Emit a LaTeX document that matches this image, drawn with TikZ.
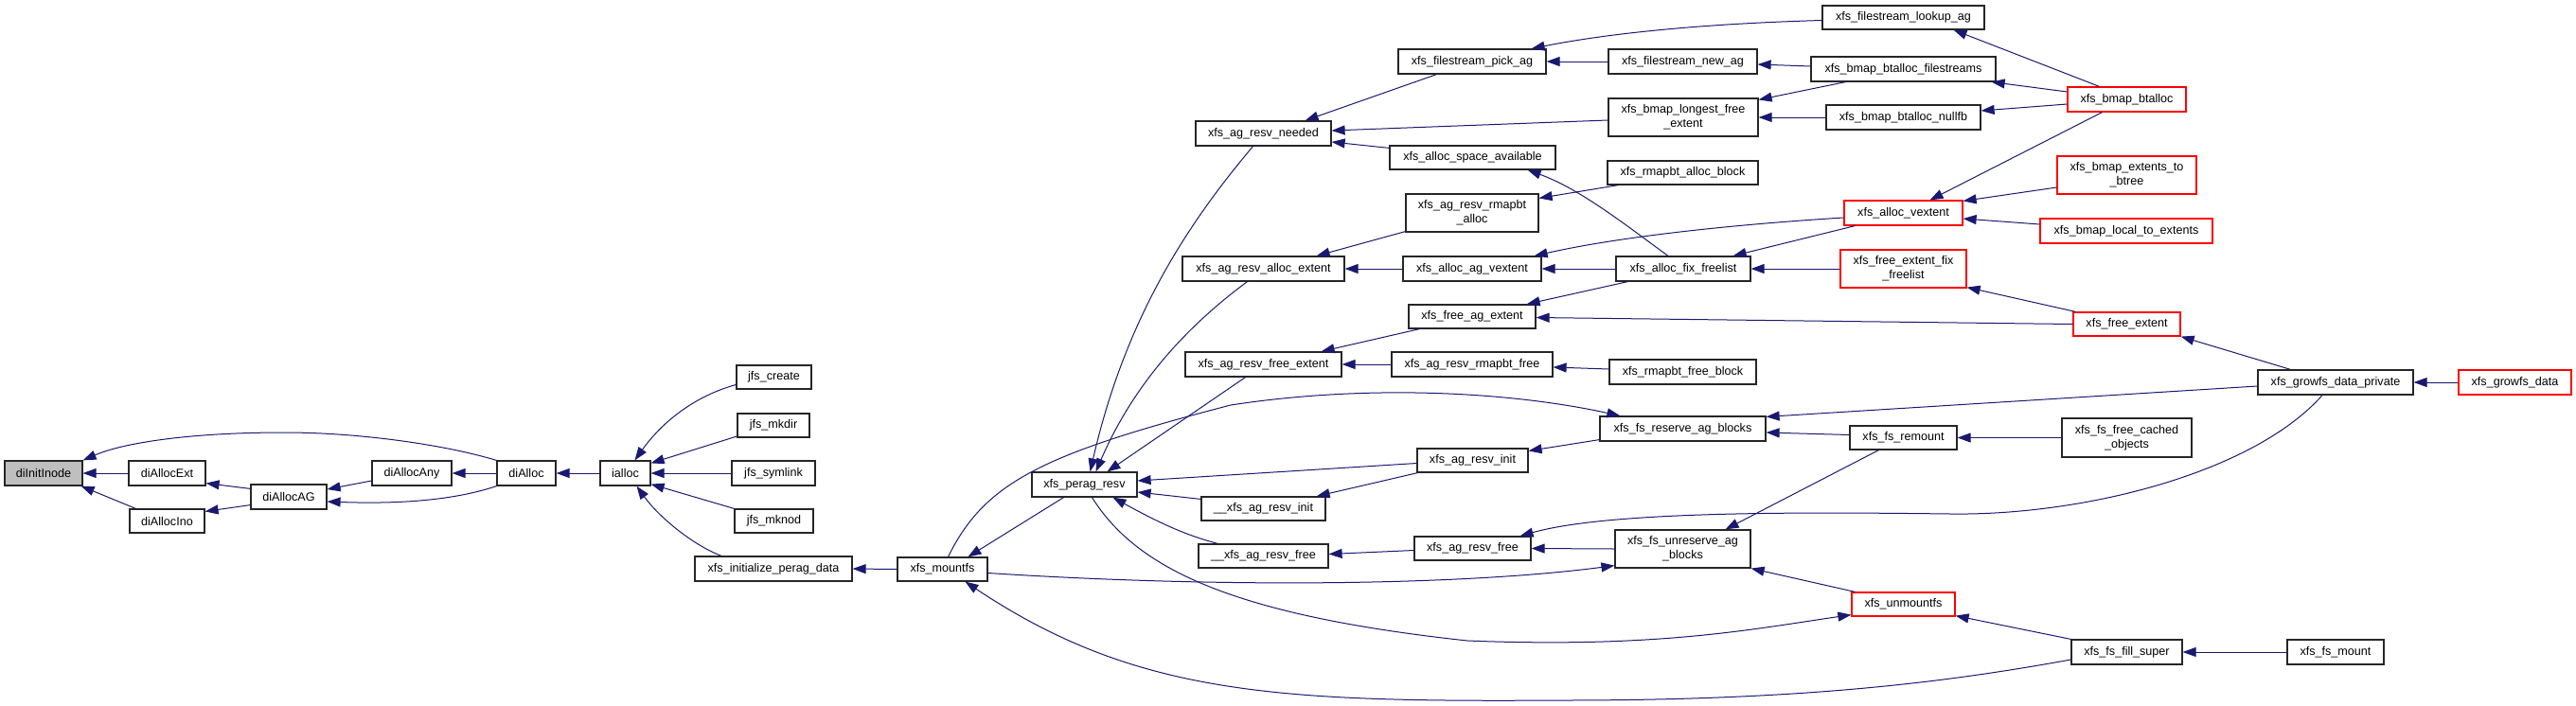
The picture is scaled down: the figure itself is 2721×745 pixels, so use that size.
\documentclass[tikz,border=0pt]{standalone}
\usepackage{fontspec}
\setmainfont{Liberation Sans}
\usetikzlibrary{arrows.meta,positioning}
\definecolor{midnight}{HTML}{191970}
\definecolor{rootfill}{HTML}{BFBFBF}
\definecolor{truncred}{HTML}{FF0000}
\tikzset{
  fnbox/.style={draw=black!85,fill=white,line width=1.2pt,inner sep=0pt,
                minimum height=26pt,align=center,
                font=\fontsize{12.6}{15}\selectfont},
  fnroot/.style={fnbox,fill=rootfill},
  fntrunc/.style={fnbox,draw=truncred},
  fntwo/.style={minimum height=40pt},
  callarrow/.style={-{Triangle[length=14pt,width=10pt]},line width=1pt,midnight},
}

\begin{document}
\begin{tikzpicture}[x=1pt,y=-1pt]
  \useasboundingbox (0,0) rectangle (2721,745);

  % jfs side
  \node[fnroot,minimum width=82pt] (diInitInode) at (46,500) {diInitInode};
  \node[fnbox,minimum width=81pt] (diAllocExt) at (176.5,500) {diAllocExt};
  \node[fnbox,minimum width=79pt,minimum height=25pt] (diAllocIno) at (176.5,550.5) {diAllocIno};
  \node[fnbox,minimum width=80pt] (diAllocAG) at (305,525) {diAllocAG};
  \node[fnbox,minimum width=84pt] (diAllocAny) at (435,500) {diAllocAny};
  \node[fnbox,minimum width=62pt] (diAlloc) at (556,500) {diAlloc};
  \node[fnbox,minimum width=53pt] (ialloc) at (660.5,500) {ialloc};
  \node[fnbox,minimum width=79pt,minimum height=25pt] (jfs_create) at (817.5,398.5) {jfs\_create};
  \node[fnbox,minimum width=76pt,minimum height=25pt] (jfs_mkdir) at (817,449.5) {jfs\_mkdir};
  \node[fnbox,minimum width=88pt] (jfs_symlink) at (817,500) {jfs\_symlink};
  \node[fnbox,minimum width=83pt,minimum height=25pt] (jfs_mknod) at (817.5,550.5) {jfs\_mknod};
  \node[fnbox,minimum width=166pt] (xfs_initialize_perag_data) at (817,601) {xfs\_initialize\_perag\_data};

  % xfs mount and per-AG reservations
  \node[fnbox,minimum width=95pt,minimum height=25pt] (xfs_mountfs) at (995.5,601.5) {xfs\_mountfs};
  \node[fnbox,minimum width=111pt] (xfs_perag_resv) at (1145.5,512) {xfs\_perag\_resv};
  \node[fnbox,minimum width=143pt] (xfs_ag_resv_needed) at (1334.5,141) {xfs\_ag\_resv\_needed};
  \node[fnbox,minimum width=171pt] (xfs_ag_resv_alloc_extent) at (1334.5,284) {xfs\_ag\_resv\_alloc\_extent};
  \node[fnbox,minimum width=165pt] (xfs_ag_resv_free_extent) at (1334.5,385) {xfs\_ag\_resv\_free\_extent};
  \node[fnbox,minimum width=131pt,minimum height=25pt] (__xfs_ag_resv_init) at (1334.5,537.5) {\_\_xfs\_ag\_resv\_init};
  \node[fnbox,minimum width=137pt,minimum height=25pt] (__xfs_ag_resv_free) at (1334.5,587.5) {\_\_xfs\_ag\_resv\_free};

  \node[fnbox,minimum width=156pt] (xfs_filestream_pick_ag) at (1555,65) {xfs\_filestream\_pick\_ag};
  \node[fnbox,minimum width=175pt,minimum height=25pt] (xfs_alloc_space_available) at (1555.5,166.5) {xfs\_alloc\_space\_available};
  \node[fnbox,fntwo,minimum width=140pt] (xfs_ag_resv_rmapbt_alloc) at (1555,225) {xfs\_ag\_resv\_rmapbt\\\_alloc};
  \node[fnbox,minimum width=146pt] (xfs_alloc_ag_vextent) at (1555,284) {xfs\_alloc\_ag\_vextent};
  \node[fnbox,minimum width=134pt,minimum height=25pt] (xfs_free_ag_extent) at (1555,334.5) {xfs\_free\_ag\_extent};
  \node[fnbox,minimum width=170pt] (xfs_ag_resv_rmapbt_free) at (1555,385) {xfs\_ag\_resv\_rmapbt\_free};
  \node[fnbox,minimum width=117pt,minimum height=25pt] (xfs_ag_resv_init) at (1555.5,486.5) {xfs\_ag\_resv\_init};
  \node[fnbox,minimum width=123pt,minimum height=25pt] (xfs_ag_resv_free) at (1555.5,579.5) {xfs\_ag\_resv\_free};

  \node[fnbox,minimum width=157pt] (xfs_filestream_new_ag) at (1777.5,65) {xfs\_filestream\_new\_ag};
  \node[fnbox,fntwo,minimum width=158pt] (xfs_bmap_longest_free_extent) at (1778,124) {xfs\_bmap\_longest\_free\\\_extent};
  \node[fnbox,minimum width=159pt,minimum height=25pt] (xfs_rmapbt_alloc_block) at (1777.5,182.5) {xfs\_rmapbt\_alloc\_block};
  \node[fnbox,minimum width=142pt] (xfs_alloc_fix_freelist) at (1778,284) {xfs\_alloc\_fix\_freelist};
  \node[fnbox,minimum width=155pt] (xfs_rmapbt_free_block) at (1777.5,393) {xfs\_rmapbt\_free\_block};
  \node[fnbox,minimum width=175pt] (xfs_fs_reserve_ag_blocks) at (1777.5,453) {xfs\_fs\_reserve\_ag\_blocks};
  \node[fnbox,fntwo,minimum width=143pt] (xfs_fs_unreserve_ag_blocks) at (1777.5,580) {xfs\_fs\_unreserve\_ag\\\_blocks};

  \node[fnbox,minimum width=171pt,minimum height=25pt] (xfs_filestream_lookup_ag) at (2010.5,18.5) {xfs\_filestream\_lookup\_ag};
  \node[fnbox,minimum width=195pt] (xfs_bmap_btalloc_filestreams) at (2010.5,73) {xfs\_bmap\_btalloc\_filestreams};
  \node[fnbox,minimum width=163pt] (xfs_bmap_btalloc_nullfb) at (2010.5,124) {xfs\_bmap\_btalloc\_nullfb};
  \node[fntrunc,minimum width=125pt] (xfs_alloc_vextent) at (2010.5,225) {xfs\_alloc\_vextent};
  \node[fntrunc,fntwo,minimum width=133pt] (xfs_free_extent_fix_freelist) at (2010.5,284) {xfs\_free\_extent\_fix\\\_freelist};
  \node[fnbox,minimum width=113pt,minimum height=25pt] (xfs_fs_remount) at (2010.5,462.5) {xfs\_fs\_remount};
  \node[fntrunc,minimum width=109pt,minimum height=25pt] (xfs_unmountfs) at (2010.5,638.5) {xfs\_unmountfs};

  \node[fntrunc,minimum width=125pt] (xfs_bmap_btalloc) at (2246.5,105) {xfs\_bmap\_btalloc};
  \node[fntrunc,fntwo,minimum width=147pt] (xfs_bmap_extents_to_btree) at (2246.5,185) {xfs\_bmap\_extents\_to\\\_btree};
  \node[fntrunc,minimum width=182pt] (xfs_bmap_local_to_extents) at (2246,244) {xfs\_bmap\_local\_to\_extents};
  \node[fntrunc,minimum width=113pt,minimum height=25pt] (xfs_free_extent) at (2246.5,342.5) {xfs\_free\_extent};
  \node[fnbox,fntwo,minimum width=137pt,minimum height=41pt] (xfs_fs_free_cached_objects) at (2246.5,462.5) {xfs\_fs\_free\_cached\\\_objects};
  \node[fnbox,minimum width=117pt] (xfs_fs_fill_super) at (2246.5,689) {xfs\_fs\_fill\_super};

  \node[fnbox,minimum width=164pt] (xfs_growfs_data_private) at (2467,404) {xfs\_growfs\_data\_private};
  \node[fntrunc,minimum width=119pt] (xfs_growfs_data) at (2656.5,404) {xfs\_growfs\_data};
  \node[fnbox,minimum width=102pt] (xfs_fs_mount) at (2467,689) {xfs\_fs\_mount};

  % callers -> callees, jfs part
  \draw[callarrow] (diAllocExt.west) -- (diInitInode.east);
  \draw[callarrow] ([xshift=7pt]diAllocIno.north west) -- ([xshift=-2pt]diInitInode.south east);
  \draw[callarrow] (diAlloc.north west) .. controls (470,470) and (380,457) .. (300,457)
                   .. controls (200,457) and (130,468) .. (diInitInode.north east);
  \draw[callarrow] ([yshift=-5pt]diAllocAG.north west) -- ([yshift=3pt]diAllocExt.south east);
  \draw[callarrow] ([yshift=5pt]diAllocAG.south west) -- ([yshift=-3pt]diAllocIno.north east);
  \draw[callarrow] ([yshift=-8pt]diAllocAny.west) -- ([yshift=8pt]diAllocAG.east);
  \draw[callarrow] (diAlloc.south west) .. controls (470,532) and (400,532) .. ([yshift=-5pt]diAllocAG.east);
  \draw[callarrow] (diAlloc.west) -- (diAllocAny.east);
  \draw[callarrow] (ialloc.west) -- (diAlloc.east);
  \draw[callarrow] ([yshift=-8pt]jfs_create.west) .. controls (735,418) and (700,445) .. ([xshift=10pt]ialloc.north);
  \draw[callarrow] ([yshift=-11.5pt]jfs_mkdir.west) -- ([yshift=-3pt]ialloc.north east);
  \draw[callarrow] (jfs_symlink.west) -- (ialloc.east);
  \draw[callarrow] (jfs_mknod.north west) -- ([yshift=2pt]ialloc.south east);
  \draw[callarrow] ([xshift=-55pt]xfs_initialize_perag_data.north) .. controls (730,575) and (695,545) .. ([xshift=12pt]ialloc.south);
  \draw[callarrow] (xfs_mountfs.west) -- (xfs_initialize_perag_data.east);

  % mount / unmount
  \draw[callarrow] ([xshift=-22pt]xfs_perag_resv.south) -- ([xshift=27pt]xfs_mountfs.north);
  \draw[callarrow] ([xshift=6pt]xfs_mountfs.north) .. controls (1040,510) and (1100,480) .. (1300,428)
                   .. controls (1450,405) and (1600,415) .. ([xshift=22pt]xfs_fs_reserve_ag_blocks.north west);
  \draw[callarrow] ([yshift=-4pt]xfs_mountfs.east) .. controls (1300,622) and (1550,618) .. ([yshift=3pt]xfs_fs_unreserve_ag_blocks.south west);
  \draw[callarrow] ([yshift=-8pt]xfs_fs_fill_super.west) .. controls (2050,722) and (1900,740) .. (1650,740)
                   .. controls (1350,742) and (1200,735) .. ([xshift=24pt]xfs_mountfs.south);
  \draw[callarrow] ([xshift=8pt]xfs_perag_resv.south) .. controls (1200,600) and (1300,650) .. (1550,677)
                   .. controls (1750,685) and (1850,665) .. ([yshift=2pt]xfs_unmountfs.south west);
  \draw[callarrow] ([xshift=4pt]xfs_unmountfs.north west) -- (xfs_fs_unreserve_ag_blocks.south east);
  \draw[callarrow] (xfs_fs_fill_super.north west) -- ([yshift=1pt]xfs_unmountfs.south east);
  \draw[callarrow] (xfs_fs_mount.west) -- (xfs_fs_fill_super.east);
  \draw[callarrow] ([yshift=3pt]xfs_fs_remount.west) -- ([yshift=-4pt]xfs_fs_reserve_ag_blocks.east);
  \draw[callarrow] ([xshift=31pt]xfs_fs_remount.south west) -- ([xshift=45pt]xfs_fs_unreserve_ag_blocks.north);
  \draw[callarrow] (xfs_fs_free_cached_objects.west) -- (xfs_fs_remount.east);
  \draw[callarrow] ([xshift=-14pt]xfs_growfs_data_private.south) .. controls (2380,500) and (2200,545) .. (2060,543)
                   .. controls (1900,541) and (1700,540) .. ([xshift=50pt]xfs_ag_resv_free.north);
  \draw[callarrow] ([yshift=-4pt]xfs_growfs_data_private.west) -- ([yshift=-1pt]xfs_fs_reserve_ag_blocks.north east);
  \draw[callarrow] ([xshift=35pt]xfs_growfs_data_private.north west) -- (xfs_free_extent.south east);
  \draw[callarrow] (xfs_growfs_data.west) -- (xfs_growfs_data_private.east);

  % reservations
  \draw[callarrow] ([yshift=2pt]xfs_fs_reserve_ag_blocks.south west) -- ([yshift=-3pt]xfs_ag_resv_init.north east);
  \draw[callarrow] (xfs_fs_unreserve_ag_blocks.west) -- (xfs_ag_resv_free.east);
  \draw[callarrow] ([yshift=-3pt]xfs_ag_resv_init.west) -- ([yshift=4pt]xfs_perag_resv.east);
  \draw[callarrow] ([xshift=1pt]xfs_ag_resv_init.south west) -- ([xshift=-10pt]__xfs_ag_resv_init.north east);
  \draw[callarrow] ([yshift=-3pt]__xfs_ag_resv_init.north west) -- ([yshift=-8pt]xfs_perag_resv.east);
  \draw[callarrow] ([xshift=21pt]__xfs_ag_resv_free.north west) .. controls (1250,565) and (1220,550) .. ([xshift=30pt]xfs_perag_resv.south);
  \draw[callarrow] ([yshift=-2pt]xfs_ag_resv_free.west) -- ([yshift=2pt]__xfs_ag_resv_free.east);
  \draw[callarrow] ([xshift=-19pt]xfs_ag_resv_free_extent.south) -- ([xshift=24pt]xfs_perag_resv.north);
  \draw[callarrow] ([xshift=-17pt]xfs_ag_resv_alloc_extent.south) .. controls (1260,340) and (1200,400) .. ([xshift=12pt]xfs_perag_resv.north);
  \draw[callarrow] ([xshift=-11pt]xfs_ag_resv_needed.south) .. controls (1260,230) and (1190,330) .. ([xshift=6pt]xfs_perag_resv.north);
  \draw[callarrow] ([xshift=41pt]xfs_filestream_pick_ag.south west) -- ([xshift=-28pt]xfs_ag_resv_needed.north east);
  \draw[callarrow] ([yshift=-3pt]xfs_bmap_longest_free_extent.west) -- ([yshift=3pt]xfs_ag_resv_needed.east);
  \draw[callarrow] ([yshift=-3pt]xfs_alloc_space_available.north west) -- ([yshift=-9pt]xfs_ag_resv_needed.east);
  \draw[callarrow] ([yshift=1pt]xfs_ag_resv_rmapbt_alloc.south west) -- ([xshift=-30pt]xfs_ag_resv_alloc_extent.north east);
  \draw[callarrow] (xfs_alloc_ag_vextent.west) -- (xfs_ag_resv_alloc_extent.east);
  \draw[callarrow] ([xshift=12pt]xfs_free_ag_extent.south west) -- ([xshift=-22pt]xfs_ag_resv_free_extent.north east);
  \draw[callarrow] (xfs_ag_resv_rmapbt_free.west) -- (xfs_ag_resv_free_extent.east);

  % allocator
  \draw[callarrow] ([yshift=-3pt]xfs_filestream_lookup_ag.west) .. controls (1800,25) and (1700,35) .. ([xshift=-16pt]xfs_filestream_pick_ag.north east);
  \draw[callarrow] (xfs_filestream_new_ag.west) -- (xfs_filestream_pick_ag.east);
  \draw[callarrow] ([yshift=3pt]xfs_bmap_btalloc_filestreams.west) -- ([yshift=-3pt]xfs_filestream_new_ag.east);
  \draw[callarrow] ([xshift=37pt]xfs_bmap_btalloc_filestreams.south west) -- ([yshift=-2pt]xfs_bmap_longest_free_extent.north east);
  \draw[callarrow] (xfs_bmap_btalloc_nullfb.west) -- (xfs_bmap_longest_free_extent.east);
  \draw[callarrow] ([xshift=-16pt]xfs_alloc_fix_freelist.north) .. controls (1720,240) and (1670,200) .. ([xshift=-30pt]xfs_alloc_space_available.south east);
  \draw[callarrow] ([xshift=12pt]xfs_rmapbt_alloc_block.south west) -- ([yshift=-5pt]xfs_ag_resv_rmapbt_alloc.north east);
  \draw[callarrow] ([yshift=-5pt]xfs_alloc_vextent.west) .. controls (1850,236) and (1720,248) .. ([xshift=-8pt]xfs_alloc_ag_vextent.north east);
  \draw[callarrow] (xfs_alloc_fix_freelist.west) -- (xfs_alloc_ag_vextent.east);
  \draw[callarrow] ([xshift=12pt]xfs_alloc_vextent.south west) -- ([xshift=-19pt]xfs_alloc_fix_freelist.north east);
  \draw[callarrow] (xfs_free_extent_fix_freelist.west) -- (xfs_alloc_fix_freelist.east);
  \draw[callarrow] ([xshift=13pt]xfs_alloc_fix_freelist.south west) -- ([xshift=-10pt]xfs_free_ag_extent.north east);
  \draw[callarrow] (xfs_free_extent.west) -- ([yshift=-1pt]xfs_free_ag_extent.east);
  \draw[callarrow] ([yshift=3pt]xfs_rmapbt_free_block.west) -- ([yshift=-3pt]xfs_ag_resv_rmapbt_free.east);
  \draw[callarrow] ([xshift=-29pt]xfs_bmap_btalloc.north) -- ([xshift=53pt]xfs_filestream_lookup_ag.south);
  \draw[callarrow] ([yshift=8pt]xfs_bmap_btalloc.west) -- ([xshift=-5pt]xfs_bmap_btalloc_filestreams.south east);
  \draw[callarrow] ([yshift=-5pt]xfs_bmap_btalloc.west) -- ([yshift=7pt]xfs_bmap_btalloc_nullfb.east);
  \draw[callarrow] ([xshift=-26pt]xfs_bmap_btalloc.south) -- ([xshift=28pt]xfs_alloc_vextent.north);
  \draw[callarrow] ([yshift=-13pt]xfs_bmap_extents_to_btree.west) -- ([yshift=-1pt]xfs_alloc_vextent.north east);
  \draw[callarrow] ([yshift=7pt]xfs_bmap_local_to_extents.west) -- ([yshift=-6pt]xfs_alloc_vextent.east);
  \draw[callarrow] ([xshift=3pt]xfs_free_extent.north west) -- ([yshift=1pt]xfs_free_extent_fix_freelist.south east);
\end{tikzpicture}
\end{document}
